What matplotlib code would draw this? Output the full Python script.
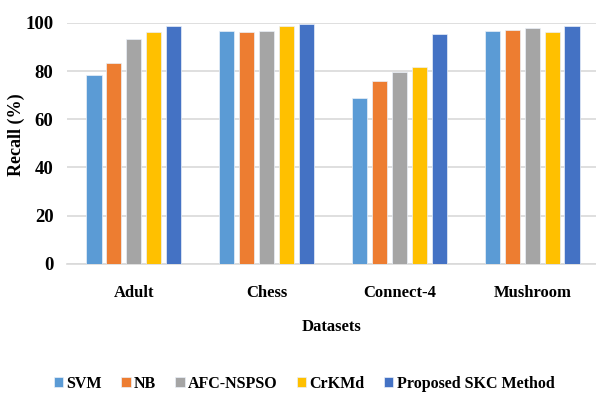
import matplotlib.pyplot as plt
import numpy as np

datasets = ["Adult", "Chess", "Connect-4", "Mushroom"]
methods = ["SVM", "NB", "AFC-NSPSO", "CrKMd", "Proposed SKC Method"]
svm = [78.5, 96.8, 69.0, 96.8]
nb = [83.5, 96.4, 75.8, 97.2]
afc = [93.2, 96.8, 79.8, 97.7]
crkmd = [96.4, 98.6, 81.6, 96.4]
skc = [98.8, 99.6, 95.6, 98.6]
colors = ["#5B9BD5", "#ED7D31", "#A5A5A5", "#FFC000", "#4472C4"]

plt.rcParams['font.family'] = ['Liberation Serif', 'DejaVu Serif']
plt.rcParams['font.weight'] = 'bold'

fig = plt.figure(figsize=(5.96, 3.95), dpi=100)
ax = fig.add_axes([0.113, 0.332, 0.887, 0.610])

x = np.arange(len(datasets))
series = [svm, nb, afc, crkmd, skc]
for i, (vals, name) in enumerate(zip(series, methods)):
    ax.bar(x + (i - 2) * 0.15, vals, width=0.115, color=colors[i],
           edgecolor="#EAF0F8", linewidth=0.5, label=name, zorder=3)

ax.set_ylim(0, 100)
ax.set_yticks(range(0, 101, 20))
ax.set_xlim(-0.5, 3.48)
ax.set_xticks(x)
ax.set_xticklabels(datasets)
ax.yaxis.grid(True, color="#D9D9D9", linewidth=1.2, zorder=0)
for s in ["top", "right", "left"]:
    ax.spines[s].set_visible(False)
ax.spines["bottom"].set_color("#D9D9D9")
ax.spines["bottom"].set_linewidth(1.2)
ax.tick_params(length=0)
ax.tick_params(axis="x", pad=15, labelsize=12)
ax.tick_params(axis="y", pad=10, labelsize=13.5)

ax.set_ylabel("Recall (%)", fontsize=13, fontweight="bold")
ax.yaxis.set_label_coords(-0.08, 0.535)
ax.set_xlabel("Datasets", fontsize=12, fontweight="bold", labelpad=13)

fig.legend(loc="center", bbox_to_anchor=(0.51, 0.028), ncol=5, frameon=False,
           fontsize=11.5, handlelength=0.6, handleheight=0.6, handletextpad=0.2,
           columnspacing=1.2)

fig.savefig("out.png", dpi=100)
